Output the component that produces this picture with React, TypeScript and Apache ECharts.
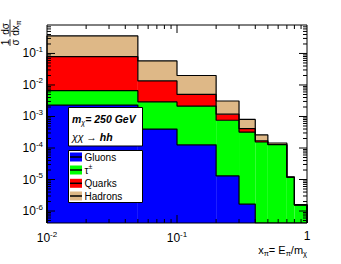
import React, { useEffect, useRef } from "react";
import * as echarts from "echarts";

// ---- data ----
const binEdges = [0.01, 0.05, 0.1, 0.2, 0.3, 0.4, 0.5, 0.7, 0.8, 1.0];
const gluons = [2.3e-3, 4.0e-4, 1.26e-4, 1.3e-5, 1.66e-6, 0, 0, 0, 0];
const taus = [4.3e-3, 2.5e-3, 2.02e-3, 7.47e-4, 3.18e-4, 1.55e-4, 1.27e-4, 1.17e-5, 1.55e-6];
const quarks = [7.24e-2, 1.05e-2, 2.85e-3, 4.2e-4, 9.0e-5, 1.5e-5, 2.0e-6, 1e-7, 1e-8];
const hadrons = [0.281, 4.46e-2, 1.5e-2, 1.92e-3, 4.0e-4, 9.0e-5, 1.5e-5, 3e-7, 3e-8];
const seriesNames = ["Gluons", "τ±", "Quarks", "Hadrons"];
const legendTexts = ["Gluons", "{n|τ}{sup|±}", "Quarks", "Hadrons"];
const seriesColors = ["#0000ff", "#00ff00", "#ff0000", "#deb887"];
const xMin = 0.01;
const xMax = 1;
const yMin = 4.17e-7;
const yMax = 0.8;
const tickMultipliers = [1, 2, 3, 4, 5, 6, 7, 8, 9];
const tickDecades = [-7, -6, -5, -4, -3, -2, -1, 0];

const FONT = "'Liberation Sans', Arial, Helvetica, sans-serif";

function buildTicks(lo: number, hi: number) {
  const out: { v: number; major: boolean }[] = [];
  for (const d of tickDecades) {
    for (const m of tickMultipliers) {
      const v = m * Math.pow(10, d);
      if (v > lo * 1.0001 && v < hi * 0.9999) out.push({ v, major: m === 1 });
    }
  }
  return out;
}

export default function App() {
  const ref = useRef<HTMLDivElement>(null);
  useEffect(() => {
    document.body.style.margin = "0";
    if (!ref.current) return;
    const chart = echarts.init(ref.current, null, { renderer: "svg" });
    const comps = [gluons, taus, quarks, hadrons];
    const nb = binEdges.length - 1;
    const cum: number[][] = [];
    comps.forEach((c, k) => {
      cum.push(c.map((v, i) => v + (k > 0 ? cum[k - 1][i] : 0)));
    });

    const fillSeries = comps.map((c, k) => {
      const data: number[][] = [];
      for (let i = 0; i < nb; i++) {
        if (c[i] <= 0) continue;
        const lo = k > 0 ? cum[k - 1][i] : 0;
        const hi = cum[k][i];
        data.push([
          binEdges[i],
          binEdges[i + 1],
          Math.min(Math.max(lo, yMin), yMax),
          Math.min(Math.max(hi, yMin), yMax),
        ]);
      }
      return {
        type: "custom",
        name: seriesNames[k],
        z: 2,
        encode: { x: [0, 1], y: [2, 3] },
        data,
        renderItem: (params: any, api: any) => {
          const p0 = api.coord([api.value(0), api.value(3)]);
          const p1 = api.coord([api.value(1), api.value(2)]);
          return {
            type: "rect",
            shape: { x: p0[0], y: p0[1], width: p1[0] - p0[0], height: p1[1] - p0[1] },
            style: { fill: seriesColors[k] },
          };
        },
      };
    });

    const lineSeries = cum.map((top) => {
      const pts: number[][] = [[binEdges[0], yMin]];
      for (let i = 0; i < nb; i++) {
        const t = Math.min(Math.max(top[i], yMin), yMax);
        pts.push([binEdges[i], t], [binEdges[i + 1], t]);
      }
      pts.push([binEdges[nb], yMin]);
      return {
        type: "line",
        z: 3,
        data: pts,
        symbol: "none",
        lineStyle: { color: "#000", width: 1.2 },
        silent: true,
      };
    });

    const xTicks = buildTicks(xMin, xMax);
    const yTicks = buildTicks(yMin, yMax);

    const tickSeries = {
      type: "custom",
      z: 10,
      silent: true,
      encode: { x: 0, y: 1 },
      data: [[xMin, yMin]],
      renderItem: (params: any, api: any) => {
        const cs = params.coordSys;
        const children: any[] = [];
        const st = { stroke: "#000", lineWidth: 1 };
        for (const t of xTicks) {
          const px = api.coord([t.v, yMin])[0];
          const len = t.major ? 8 : 4;
          children.push({ type: "line", shape: { x1: px, y1: cs.y + cs.height, x2: px, y2: cs.y + cs.height - len }, style: st });
          children.push({ type: "line", shape: { x1: px, y1: cs.y, x2: px, y2: cs.y + len }, style: st });
        }
        for (const t of yTicks) {
          const py = api.coord([xMin, t.v])[1];
          const len = t.major ? 8 : 4;
          children.push({ type: "line", shape: { x1: cs.x, y1: py, x2: cs.x + len, y2: py }, style: st });
          children.push({ type: "line", shape: { x1: cs.x + cs.width, y1: py, x2: cs.x + cs.width - len, y2: py }, style: st });
        }
        children.push({
          type: "rect",
          shape: { x: cs.x, y: cs.y, width: cs.width, height: cs.height },
          style: { fill: "none", stroke: "#000", lineWidth: 1 },
        });
        return { type: "group", children };
      },
    };

    const labelFormatter = (v: number) => {
      const e = Math.round(Math.log10(v));
      return e === 0 ? "{b|1}" : `{b|10}{s|${e}}`;
    };
    const labelRich = {
      b: { fontSize: 12, fontFamily: FONT, color: "#000" },
      s: { fontSize: 8, fontFamily: FONT, color: "#000", padding: [0, 0, 8, 0] },
    };

    const Z = 100;
    const graphics: any[] = [];
    // text box
    graphics.push({ type: "rect", z: Z, shape: { x: 68.5, y: 107.5, width: 74, height: 38.5 }, style: { fill: "#fff", stroke: "#000", lineWidth: 1 } });
    graphics.push({
      type: "text",
      z: Z + 1,
      x: 72,
      y: 119,
      style: {
        text: "{b|m}{sub|χ}{b|= 250 GeV}",
        fill: "#000",
        align: "left",
        verticalAlign: "middle",
        rich: {
          b: { fontSize: 10.5, fontWeight: "bold", fontStyle: "italic", fontFamily: FONT },
          sub: { fontSize: 7, fontStyle: "italic", fontFamily: FONT, padding: [6, 0, 0, 0] },
        },
      },
    });
    graphics.push({
      type: "text",
      z: Z + 1,
      x: 72,
      y: 137,
      style: {
        text: "{i|χχ}{n| → }{b|hh}",
        fill: "#000",
        align: "left",
        verticalAlign: "middle",
        rich: {
          i: { fontSize: 10.5, fontStyle: "italic", fontFamily: FONT },
          n: { fontSize: 10.5, fontFamily: FONT },
          b: { fontSize: 10.5, fontWeight: "bold", fontStyle: "italic", fontFamily: FONT },
        },
      },
    });
    // legend
    graphics.push({ type: "rect", z: Z, shape: { x: 68.5, y: 150.5, width: 74, height: 52 }, style: { fill: "#fff", stroke: "#000", lineWidth: 1 } });
    const legendY = [157, 170, 183.3, 196];
    seriesColors.forEach((c, i) => {
      graphics.push({ type: "rect", z: Z + 1, shape: { x: 70, y: legendY[i] - 4.5, width: 12, height: 9 }, style: { fill: c } });
      graphics.push({ type: "line", z: Z + 2, shape: { x1: 70, y1: legendY[i], x2: 82, y2: legendY[i] }, style: { stroke: "#000", lineWidth: 1.5 } });
      graphics.push({
        type: "text",
        z: Z + 1,
        x: 84.5,
        y: legendY[i],
        style: {
          text: legendTexts[i],
          font: `10px ${FONT}`,
          fill: "#000",
          align: "left",
          verticalAlign: "middle",
          rich: {
            n: { fontSize: 10, fontFamily: FONT },
            sup: { fontSize: 7, fontFamily: FONT, padding: [0, 0, 7, 0] },
          },
        },
      });
    });
    // y-axis title (rotated fraction)
    const rot = Math.PI / 2;
    graphics.push({ type: "text", z: Z, x: 5, y: 42.5, rotation: rot, style: { text: "1", font: `10px ${FONT}`, fill: "#000", align: "center", verticalAlign: "middle" } });
    graphics.push({ type: "text", z: Z, x: 15, y: 42.5, rotation: rot, style: { text: "σ", font: `10px ${FONT}`, fill: "#000", align: "center", verticalAlign: "middle" } });
    graphics.push({ type: "line", z: Z, shape: { x1: 10, y1: 39, x2: 10, y2: 46 }, style: { stroke: "#000", lineWidth: 0.8 } });
    graphics.push({ type: "text", z: Z, x: 5, y: 29, rotation: rot, style: { text: "dσ", font: `10px ${FONT}`, fill: "#000", align: "center", verticalAlign: "middle" } });
    graphics.push({
      type: "text",
      z: Z,
      x: 15.5,
      y: 28,
      rotation: rot,
      style: {
        text: "{n|dx}{sub|π}",
        fill: "#000",
        align: "center",
        verticalAlign: "middle",
        rich: {
          n: { fontSize: 10, fontFamily: FONT },
          sub: { fontSize: 7, fontFamily: FONT, padding: [6, 0, 0, 0] },
        },
      },
    });
    graphics.push({ type: "line", z: Z, shape: { x1: 10, y1: 19.5, x2: 10, y2: 36.5 }, style: { stroke: "#000", lineWidth: 0.8 } });
    // x-axis title
    graphics.push({
      type: "text",
      z: Z,
      x: 307,
      y: 250,
      style: {
        text: "{n|x}{sub|π}{n|= E}{sub|π}{n|/m}{sub|χ}",
        fill: "#000",
        align: "right",
        verticalAlign: "middle",
        rich: {
          n: { fontSize: 11, fontFamily: FONT },
          sub: { fontSize: 7.5, fontFamily: FONT, padding: [6, 0, 0, 0] },
        },
      },
    });

    const option: any = {
      animation: false,
      backgroundColor: "#fff",
      grid: { left: 47, right: 34, top: 25, bottom: 41, containLabel: false },
      xAxis: {
        type: "log",
        logBase: 10,
        min: xMin,
        max: xMax,
        axisLine: { show: false },
        axisTick: { show: false },
        splitLine: { show: false },
        axisLabel: { margin: 7, formatter: labelFormatter, rich: labelRich },
      },
      yAxis: {
        type: "log",
        logBase: 10,
        min: yMin,
        max: yMax,
        axisLine: { show: false },
        axisTick: { show: false },
        splitLine: { show: false },
        axisLabel: { margin: 4, formatter: labelFormatter, rich: labelRich, showMinLabel: false, showMaxLabel: false },
      },
      series: [...fillSeries, ...lineSeries, tickSeries],
      graphic: graphics,
    };
    chart.setOption(option);
    return () => chart.dispose();
  }, []);
  return <div ref={ref} style={{ width: 341, height: 264 }} />;
}
